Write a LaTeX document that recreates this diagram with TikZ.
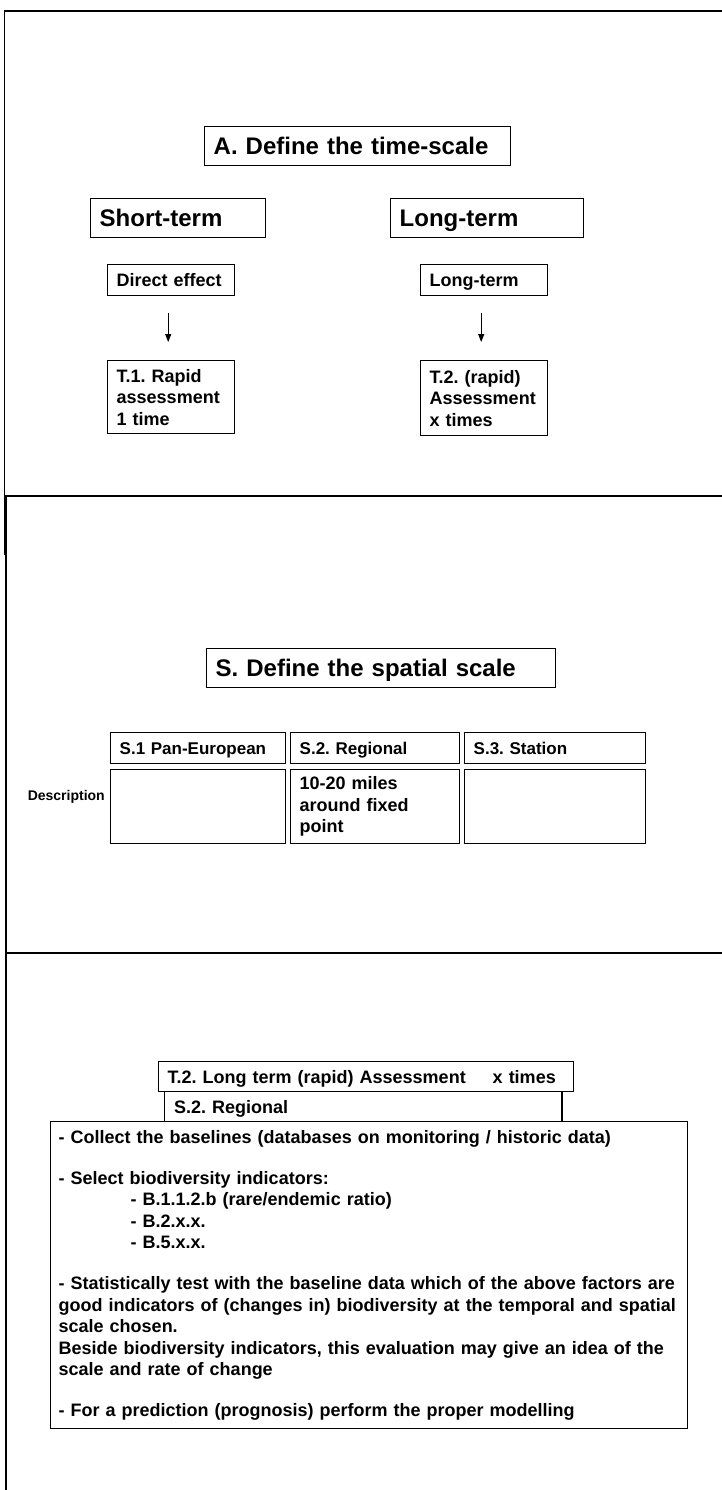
\documentclass[tikz,border=0pt]{standalone}
\usepackage{fontspec}
\setmainfont{Liberation Sans}
\usetikzlibrary{arrows.meta}
\frenchspacing

\begin{document}
\begin{tikzpicture}[x=1pt,y=-1pt,
    frame/.style={line width=1.4pt},
    box/.style={draw,line width=1.4pt,anchor=north west,inner xsep=9pt,inner ysep=0pt,
        align=left,font=\bfseries\fontsize{18}{21.5}\selectfont},
    oneline/.style={text height=#1,text depth=0pt},
    oneline/.default=13pt,
    bigbox/.style={box,oneline=17.3pt,font=\bfseries\fontsize{24}{28}\selectfont},
    headbox/.style={box,oneline=12.3pt,font=\bfseries\fontsize{17}{20}\selectfont},
    arr/.style={-{Triangle[length=8pt,width=6pt]},line width=1pt}]
        \useasboundingbox (0,0) rectangle (722,1490);
        % page frame and panel dividers
        \draw[frame] (722,11) -- (4.5,11) -- (4.5,496);
        \draw[line width=3pt] (5,496) -- (5,555);
        \draw[frame] (6,555) -- (6,1490);
        \draw[frame] (4.5,496) -- (722,496);
        \draw[frame] (6,953) -- (722,953);
        % A. time scale
        \node[bigbox, text width=288pt, minimum height=39pt] (timescale) at (204,126) {A. Define the time-scale};
        \node[bigbox, text width=157pt, minimum height=39pt] (short) at (90,198) {Short-term};
        \node[bigbox, text width=175pt, minimum height=39pt] (long) at (390,198) {Long-term};
        \node[box, oneline, text width=109pt, minimum height=31pt] (direct) at (107,264) {Direct effect};
        \node[box, oneline, text width=109pt, minimum height=31pt] (longeff) at (420,264) {Long-term};
        \node[box, text width=109pt, minimum height=73pt] (rapid) at (107,360) {T.1. Rapid\\assessment\\1 time};
        \node[box, text width=109pt, minimum height=75pt] (repeated) at (420,360) {T.2. (rapid)\\Assessment\\x times};
        \draw[arr, shorten <=17pt, shorten >=18pt] ([xshift=-3pt]direct.south) -- ([xshift=-3pt]rapid.north);
        \draw[arr, shorten <=17pt, shorten >=18pt] ([xshift=-3pt]longeff.south) -- ([xshift=-3pt]repeated.north);
        % S. spatial scale
        \node[bigbox, text width=331pt, minimum height=39pt] (spatial) at (206,648) {S. Define the spatial scale};
        \node[headbox, text width=157pt, minimum height=31pt] (pan) at (110,732) {S.1 Pan-European};
        \node[headbox, text width=151pt, minimum height=31pt] (reg) at (290,732) {S.2. Regional};
        \node[headbox, text width=163pt, minimum height=31pt] (stat) at (464,732) {S.3. Station};
        \node[box, text width=157pt, minimum height=74pt] (pandesc) at (110,769) {};
        \node[box, text width=151pt, minimum height=74pt] (regdesc) at (290,769) {10-20 miles\\around fixed\\point};
        \node[box, text width=163pt, minimum height=74pt] (statdesc) at (464,769) {};
        \node[anchor=base east, inner sep=0pt, font=\bfseries\fontsize{14}{16}\selectfont] (desc) at (105,800) {Description};
        % chosen combination
        \node[box, oneline, text width=397pt, minimum height=30pt] (longterm) at (158,1061) {T.2. Long term (rapid) Assessment\hspace{21pt} x times};
        \node[box, oneline, draw=none, text width=378pt, minimum height=30pt] (regional) at (164.5,1091) {S.2. Regional};
        \draw[frame] (regional.south west) -- (regional.north west);
        \draw[frame] (regional.north east) -- (regional.south east);
        \node[box, inner xsep=8pt, text width=621pt, minimum height=307pt] (steps) at (50,1121) {- Collect the baselines (databases on monitoring / historic data)\\[19.5pt]
            - Select biodiversity indicators:\\
            \hspace*{72pt}- B.1.1.2.b (rare/endemic ratio)\\
            \hspace*{72pt}- B.2.x.x.\\
            \hspace*{72pt}- B.5.x.x.\\[19.5pt]
            - Statistically test with the baseline data which of the above factors are\\
            good indicators of (changes in) biodiversity at the temporal and spatial\\
            scale chosen.\\
            Beside biodiversity indicators, this evaluation may give an idea of the\\
            scale and rate of change\\[19.5pt]
            - For a prediction (prognosis) perform the proper modelling};
    \end{tikzpicture}
\end{document}
